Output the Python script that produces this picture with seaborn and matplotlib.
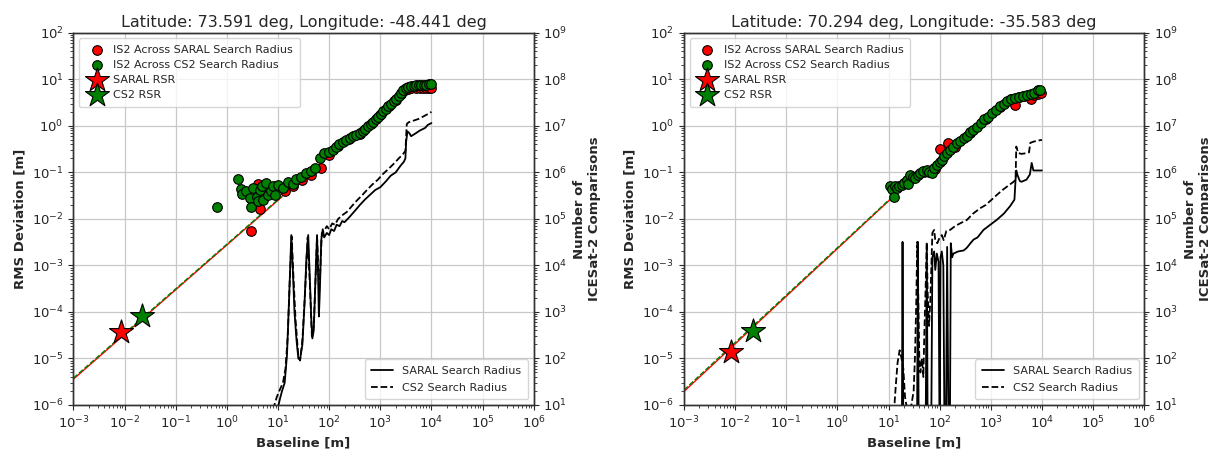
import numpy as np
import pandas as pd
import matplotlib
matplotlib.use("Agg")
import matplotlib.pyplot as plt
from matplotlib.ticker import LogLocator, NullFormatter
import seaborn as sns

# ---- panel 1: Latitude 73.591, Longitude -48.441 ----
p1_title = "Latitude: 73.591 deg, Longitude: -48.441 deg"

p1_cs2_x = [0.65, 1.66, 1.9, 2.0, 2.4, 2.8, 3.0, 3.3, 3.8, 4.0, 4.4, 4.8, 5.0, 5.9, 6.3, 7.4, 7.9, 8.9,
            10, 12.6, 15.8, 20, 23, 28, 35, 45, 52, 65, 81, 100, 117, 138, 158, 186, 214, 251, 295, 339,
            398, 457, 513, 575, 646, 724, 813, 912, 1023, 1148, 1288, 1445, 1622, 1820, 2042, 2291,
            2570, 2818, 3162, 3548, 3981, 4467, 5012, 5623, 6310, 7080, 7943, 8913, 10000]
p1_cs2_y = [0.018, 0.071, 0.044, 0.034, 0.039, 0.028, 0.018, 0.047, 0.030, 0.024, 0.042, 0.050, 0.025,
            0.060, 0.032, 0.039, 0.050, 0.032, 0.054, 0.046, 0.063, 0.056, 0.071, 0.079, 0.095, 0.107,
            0.123, 0.20, 0.257, 0.27, 0.31, 0.36, 0.40, 0.44, 0.49, 0.54, 0.60, 0.63, 0.71, 0.79, 0.87,
            0.98, 1.1, 1.23, 1.4, 1.58, 1.8, 2.1, 2.35, 2.63, 3.0, 3.4, 3.8, 4.5, 5.2, 5.8, 6.4, 6.9,
            7.1, 7.3, 7.4, 7.5, 7.6, 7.6, 7.7, 7.9, 8.1]

p1_saral_x = [2.9, 4.0, 4.2, 4.5, 14, 20, 30, 45, 70, 100, 150, 250, 400, 700, 1000, 1500, 2000,
              2500, 3000, 3500, 4000, 5000, 6000, 7000, 8000, 9000, 10000]
p1_saral_y = [0.0056, 0.057, 0.045, 0.016, 0.039, 0.05, 0.07, 0.09, 0.125, 0.24, 0.37, 0.52, 0.68,
              1.15, 1.75, 2.7, 3.6, 4.8, 5.8, 6.3, 6.4, 6.5, 6.6, 6.6, 6.5, 6.4, 6.5]

p1_rsr_saral = (0.0085, 3.8e-5)
p1_rsr_cs2 = (0.022, 8.0e-5)
p1_fit_x = [1e-3, 12]
p1_fit_saral_y = [3.6e-6, 0.030]
p1_fit_cs2_y = [3.8e-6, 0.031]

p1_n_saral_x = [10.0, 11, 12, 13.5, 15, 16.5, 18.2, 19.5, 21, 23, 25, 27, 30, 33, 36, 39, 42, 45, 47,
                50, 54, 58, 61, 63, 66, 70, 75, 80, 90, 100, 110, 125, 140, 160, 180, 200, 250, 320,
                400, 500, 630, 800, 1000, 1300, 1600, 2000, 2500, 2900, 3100, 3200, 3400, 3700, 4000,
                5000, 6000, 7500, 8500, 10000]
p1_n_saral = [9, 14, 20, 30, 120, 2000, 45000, 8000, 1000, 250, 100, 95, 200, 1500, 15000, 45000,
              5000, 600, 270, 400, 5000, 45000, 5000, 800, 3000, 35000, 60000, 40000, 50000, 45000,
              60000, 55000, 75000, 70000, 90000, 85000, 110000, 150000, 200000, 260000, 330000,
              420000, 480000, 650000, 850000, 1.0e6, 1.4e6, 1.7e6, 2.0e6, 4.5e6, 7.6e6, 7.0e6, 6.0e6,
              7.0e6, 8.0e6, 9.0e6, 1.05e7, 1.15e7]
p1_n_cs2_x = [7.5, 8.5, 9.5, 11, 12.5, 14, 15.5, 17, 18.5, 20, 22, 25, 27, 30, 34, 38, 42, 46, 50, 55,
              58, 62, 66, 72, 80, 90, 100, 115, 130, 150, 180, 220, 280, 350, 450, 550, 700, 900,
              1100, 1400, 1800, 2300, 2800, 3100, 3300, 3600, 4500, 5500, 7000, 8500, 10000]
p1_n_cs2 = [5, 10, 15, 22, 30, 60, 300, 5000, 42000, 6000, 700, 110, 90, 250, 3000, 40000, 4000, 300,
            500, 8000, 42000, 6000, 5000, 50000, 55000, 70000, 60000, 80000, 75000, 100000, 120000,
            140000, 190000, 250000, 330000, 420000, 550000, 700000, 900000, 1.15e6, 1.5e6, 2.0e6,
            2.5e6, 2.9e6, 1.1e7, 1.2e7, 1.3e7, 1.4e7, 1.6e7, 1.8e7, 2.0e7]

# ---- panel 2: Latitude 70.294, Longitude -35.583 ----
p2_title = "Latitude: 70.294 deg, Longitude: -35.583 deg"

p2_cs2_x = [10.7, 11.5, 12.6, 13.5, 14.5, 15.8, 18.2, 20, 23, 24.5, 26.3, 29.5, 33, 37, 42, 48, 56,
            63, 71, 79, 89, 100, 110, 123, 138, 158, 186, 214, 251, 295, 339, 398, 457, 537, 631,
            741, 891, 1047, 1259, 1514, 1778, 2089, 2512, 2951, 3548, 4169, 5012, 6026, 7080, 8511,
            9333]
p2_cs2_y = [0.050, 0.044, 0.030, 0.050, 0.046, 0.052, 0.054, 0.060, 0.069, 0.056, 0.089, 0.079,
            0.074, 0.089, 0.095, 0.105, 0.112, 0.10, 0.095, 0.126, 0.145, 0.166, 0.186, 0.22, 0.257,
            0.31, 0.36, 0.42, 0.48, 0.54, 0.62, 0.74, 0.83, 0.95, 1.15, 1.38, 1.58, 1.86, 2.24, 2.63,
            3.0, 3.4, 3.8, 4.0, 4.2, 4.4, 4.6, 4.9, 5.2, 5.9, 6.0]

p2_saral_x = [12, 20, 30, 50, 80, 100, 148, 200, 400, 800, 1500, 2500, 2950, 3500, 4500, 6000, 7000,
              8500, 9500]
p2_saral_y = [0.045, 0.058, 0.075, 0.10, 0.12, 0.32, 0.43, 0.36, 0.72, 1.4, 2.6, 3.7, 2.8, 4.1, 4.3,
              3.8, 4.6, 4.8, 5.0]

p2_rsr_saral = (0.0085, 1.35e-5)
p2_rsr_cs2 = (0.022, 3.9e-5)
p2_fit_x = [1e-3, 11.5]
p2_fit_saral_y = [1.95e-6, 0.028]
p2_fit_cs2_y = [2.1e-6, 0.029]

p2_n_saral_x = [16, 18.2, 18.8, 19.5, 36, 37.5, 39, 53, 56, 58.5, 68, 72, 78, 82, 88, 95, 100, 104,
                110, 118, 125, 132, 140, 150, 158, 165, 175, 186, 230, 295, 340, 400, 460, 550, 720,
                900, 1300, 1800, 2400, 2900, 3050, 3150, 3300, 3700, 4000, 5000, 5800, 6300, 6800,
                8000, 10000]
p2_n_saral = [1, 1, 32000, 1, 1, 32000, 1, 1, 28000, 1, 1, 15000, 20000, 8000, 18000, 12000, 1, 15000,
              20000, 10000, 1, 1, 25000, 1, 1, 30000, 15000, 18000, 20000, 21000, 24000, 30000,
              36000, 40000, 58000, 70000, 95000, 130000, 190000, 260000, 700000, 1.1e6, 900000,
              650000, 630000, 700000, 900000, 1.6e6, 1.1e6, 1.1e6, 1.1e6]
p2_n_cs2_x = [12.5, 13.2, 14, 15, 16.5, 18, 19.5, 21, 23, 25, 28, 31, 33, 35, 36.5, 38, 40, 42, 45,
              48, 50, 53, 56, 58, 62, 66, 72, 78, 82, 90, 100, 110, 120, 135, 160, 200, 250, 340,
              450, 620, 800, 1000, 1320, 1700, 2200, 2800, 3050, 3150, 3450, 4000, 5000, 5600, 5900,
              6500, 8000, 10000]
p2_n_cs2 = [1, 12, 30, 80, 150, 100, 60, 15, 8, 6, 10, 20, 120, 2000, 32000, 3000, 100, 50, 100, 40,
            300, 3000, 32000, 3000, 500, 2000, 50000, 58000, 35000, 30000, 40000, 45000, 35000, 55000,
            58000, 70000, 80000, 95000, 130000, 170000, 200000, 250000, 330000, 420000, 520000,
            630000, 700000, 3.6e6, 2.6e6, 2.5e6, 2.6e6, 2.7e6, 4.3e6, 4.5e6, 4.8e6, 5.0e6]

panels = [
    (p1_title, p1_cs2_x, p1_cs2_y, p1_saral_x, p1_saral_y, p1_rsr_saral, p1_rsr_cs2, p1_fit_x,
     p1_fit_saral_y, p1_fit_cs2_y, p1_n_saral_x, p1_n_saral, p1_n_cs2_x, p1_n_cs2),
    (p2_title, p2_cs2_x, p2_cs2_y, p2_saral_x, p2_saral_y, p2_rsr_saral, p2_rsr_cs2, p2_fit_x,
     p2_fit_saral_y, p2_fit_cs2_y, p2_n_saral_x, p2_n_saral, p2_n_cs2_x, p2_n_cs2),
]

sns.set_style("ticks")
plt.rcParams["font.family"] = ["DejaVu Sans"]
plt.rcParams["font.size"] = 9.5

fig = plt.figure(figsize=(12.08, 4.5), dpi=100)
positions = [[0.0608, 0.1, 0.381, 0.827], [0.5662, 0.1, 0.381, 0.827]]

for pos, (title, cx, cy, sx, sy, rs, rc, fx, fsy, fcy, nsx, ns, ncx, nc) in zip(positions, panels):
    ax = fig.add_axes(pos)
    ax2 = ax.twinx()

    # fit lines (red under, green dashed on top)
    sns.lineplot(x=fx, y=fsy, ax=ax, color="red", lw=1.0, estimator=None, zorder=2)
    sns.lineplot(x=fx, y=fcy, ax=ax, color="green", lw=1.0, linestyle="--", estimator=None, zorder=2)

    sns.scatterplot(x=sx, y=sy, ax=ax, color="red", edgecolor="k", linewidth=0.8, s=48,
                    label="IS2 Across SARAL Search Radius", zorder=3)
    sns.scatterplot(x=cx, y=cy, ax=ax, color="green", edgecolor="k", linewidth=0.8, s=48,
                    label="IS2 Across CS2 Search Radius", zorder=4)
    sns.scatterplot(x=[rs[0]], y=[rs[1]], ax=ax, color="red", marker="*", edgecolor="k",
                    linewidth=0.8, s=330, label="SARAL RSR", zorder=5)
    sns.scatterplot(x=[rc[0]], y=[rc[1]], ax=ax, color="green", marker="*", edgecolor="k",
                    linewidth=0.8, s=330, label="CS2 RSR", zorder=5)

    sns.lineplot(x=nsx, y=ns, ax=ax2, color="k", lw=1.3, estimator=None, sort=False,
                 label="SARAL Search Radius")
    sns.lineplot(x=ncx, y=nc, ax=ax2, color="k", lw=1.3, linestyle="--", estimator=None,
                 sort=False, label="CS2 Search Radius")

    for a in (ax, ax2):
        a.set_xscale("log")
        a.set_yscale("log")
    ax.set_xlim(1e-3, 1e6)
    ax.set_ylim(1e-6, 1e2)
    ax2.set_ylim(1e1, 1e9)
    ax.xaxis.set_major_locator(LogLocator(base=10, numticks=20))
    ax.yaxis.set_major_locator(LogLocator(base=10, numticks=20))
    ax2.yaxis.set_major_locator(LogLocator(base=10, numticks=20))
    for axis in (ax.xaxis, ax.yaxis, ax2.yaxis):
        axis.set_minor_locator(LogLocator(base=10, subs=np.arange(2, 10), numticks=20))
        axis.set_minor_formatter(NullFormatter())

    ax.grid(True, which="major", color="#c8c8c8", lw=0.9)
    ax.set_axisbelow(True)
    for a in (ax, ax2):
        for sp in a.spines.values():
            sp.set_color("#333333")
            sp.set_linewidth(1.0)

    ax.set_title(title, fontsize=11.5, pad=4)
    ax.set_xlabel("Baseline [m]", fontweight="bold", fontsize=9.5)
    ax.set_ylabel("RMS Deviation [m]", fontweight="bold", fontsize=9.5)
    ax2.set_ylabel("Number of\nICESat-2 Comparisons", fontweight="bold", fontsize=9.5)

    ax.legend(loc="upper left", fontsize=8, framealpha=0.8, borderpad=0.6, labelspacing=0.45,
              handletextpad=0.5)
    ax2.legend(loc="lower right", fontsize=8, framealpha=0.8, borderpad=0.6, labelspacing=0.6)

fig.savefig("out.png", dpi=100)
